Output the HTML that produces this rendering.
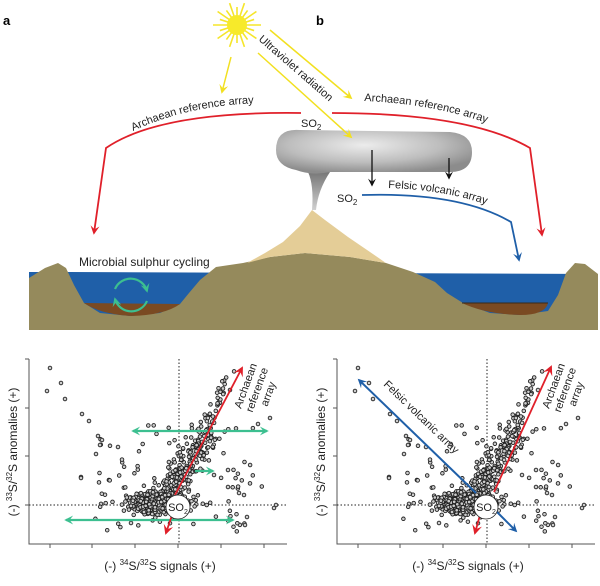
<!DOCTYPE html>
<html><head><meta charset="utf-8"><style>
html,body{margin:0;padding:0;background:#fff}
svg{display:block;font-family:"Liberation Sans",sans-serif}
</style></head><body>
<svg id="s" width="600" height="586" viewBox="0 0 600 586" xmlns="http://www.w3.org/2000/svg">
<defs>
<radialGradient id="cg" cx="0.45" cy="0.35" r="0.65"><stop offset="0" stop-color="#ececec"/><stop offset="0.6" stop-color="#bdbdbd"/><stop offset="1" stop-color="#8c8c8c"/></radialGradient>
<linearGradient id="st" x1="0" y1="0" x2="0" y2="1"><stop offset="0" stop-color="#777"/><stop offset="1" stop-color="#d0d0d0"/></linearGradient>
<marker id="ar" viewBox="0 0 10 10" refX="8" refY="5" markerWidth="9" markerHeight="9" orient="auto-start-reverse" markerUnits="userSpaceOnUse"><path d="M0,0 L10,5 L0,10 L4,5z" fill="#e0202a"/></marker>
<marker id="ay" viewBox="0 0 10 10" refX="8" refY="5" markerWidth="9" markerHeight="9" orient="auto" markerUnits="userSpaceOnUse"><path d="M0,0 L10,5 L0,10 L4,5z" fill="#f2e020"/></marker>
<marker id="ab" viewBox="0 0 10 10" refX="8" refY="5" markerWidth="9" markerHeight="9" orient="auto-start-reverse" markerUnits="userSpaceOnUse"><path d="M0,0 L10,5 L0,10 L4,5z" fill="#1f5fa8"/></marker>
<marker id="ag" viewBox="0 0 10 10" refX="8" refY="5" markerWidth="9" markerHeight="9" orient="auto-start-reverse" markerUnits="userSpaceOnUse"><path d="M0,0 L10,5 L0,10 L4,5z" fill="#3cbf90"/></marker>
<marker id="ak" viewBox="0 0 10 10" refX="8" refY="5" markerWidth="8" markerHeight="8" orient="auto" markerUnits="userSpaceOnUse"><path d="M0,0 L10,5 L0,10 L4,5z" fill="#111"/></marker>
<marker id="arb" viewBox="0 0 10 10" refX="8" refY="5" markerWidth="10" markerHeight="10" orient="auto-start-reverse" markerUnits="userSpaceOnUse"><path d="M0,0 L10,5 L0,10 L4,5z" fill="#e0202a"/></marker>
</defs>
<text x="3" y="25" font-size="13" font-weight="bold">a</text>
<text x="316" y="25" font-size="13" font-weight="bold">b</text>
<g stroke="#f5e52a" stroke-width="1.6" id="sun"></g>
<circle cx="237" cy="25" r="10" fill="#f7ea2a"/>
<path d="M29,272 L29,330 L598,330 L598,274 L69,272 Z" fill="#1f5fa8"/>
<path d="M29,330 L29,278 L45,268 L58,263 L66,268 L74,285 L84,303 L100,313 L131,316 L160,313 L180,304 L189,293 L200,280 L216,267 L243,263 L270,257 L305,253 L350,257 L386,263 L413,272 L435,282 L447,293 L463,303 L490,313 L520,315 L548,311 L558,295 L566,273 L575,263 L585,264 L598,274 L598,330 Z" fill="#958a5c"/>
<path d="M84,303 Q100,314 131,316 Q165,315 180,304 Z" fill="#7a4a22"/>
<path d="M462,303 L548,303 Q545,315 520,315 Q485,314 462,303Z" fill="#7a4a22"/>
<line x1="462" y1="303" x2="548" y2="303" stroke="#3a2a18" stroke-width="1"/>
<path d="M312,210 L300,226 L283,242 L265,253 L247,263 L270,257 L305,253 L350,257 L386,263 L370,252 L348,237 L325,220 Z" fill="#e4cd97"/>
<path d="M308,172 Q314,185 312,210 L316,210 Q318,190 330,172Z" fill="url(#st)"/>
<path d="M276,150 Q276,128 300,130 L450,132 Q472,134 472,152 Q472,172 450,172 L330,172 Q312,176 296,170 Q276,166 276,150Z" fill="url(#cg)"/>
<g stroke="#f2e020" stroke-width="1.5" fill="none">
<line x1="231" y1="57" x2="222" y2="92" marker-end="url(#ay)"/>
<line x1="270" y1="30" x2="351" y2="98" marker-end="url(#ay)"/>
<line x1="258" y1="53" x2="351" y2="137" marker-end="url(#ay)"/>
</g>
<text transform="translate(258,40) rotate(41)" font-size="11" fill="#222">Ultraviolet radiation</text>
<g stroke="#e0202a" stroke-width="1.8" fill="none">
<path d="M301,113 Q160,111 106,148 L94,233" marker-end="url(#ar)"/>
<path d="M332,113 Q470,113 530,148 L542,235" marker-end="url(#ar)"/>
</g>
<path id="lt" d="M133,131 Q190,104 266,103" fill="none"/>
<path id="rt" d="M364,101 Q440,104 500,128" fill="none"/>
<text font-size="11" fill="#222"><textPath href="#lt">Archaean reference array</textPath></text>
<text font-size="11" fill="#222"><textPath href="#rt">Archaean reference array</textPath></text>
<text x="301" y="127" font-size="11" fill="#222">SO<tspan font-size="8" dy="3">2</tspan></text>
<g stroke="#111" stroke-width="1.3">
<line x1="372" y1="150" x2="372" y2="185" marker-end="url(#ak)"/>
<line x1="449" y1="158" x2="449" y2="178" marker-end="url(#ak)"/>
</g>
<text x="337" y="202" font-size="11" fill="#222">SO<tspan font-size="8" dy="3">2</tspan></text>
<path d="M362,195 Q460,192 511,222 L519,260" stroke="#1f5fa8" stroke-width="1.8" fill="none" marker-end="url(#ab)"/>
<path id="ft" d="M388,188 Q450,190 496,208" fill="none"/>
<text font-size="11" fill="#222"><textPath href="#ft">Felsic volcanic array</textPath></text>
<text x="79" y="266" font-size="12" fill="#222">Microbial sulphur cycling</text>
<g stroke="#3cbf90" stroke-width="2.2" fill="none">
<path d="M115,289 A17,17 0 0 1 147,291" marker-end="url(#ag)"/>
<path d="M147,301 A17,17 0 0 1 115,299" marker-end="url(#ag)"/>
</g>
<g id="p1"></g>
<g id="p2" transform="translate(308,0)"></g>
</svg>
<script>
var NS="http://www.w3.org/2000/svg";
function el(p,t,a){var e=document.createElementNS(NS,t);for(var k in a)e.setAttribute(k,a[k]);p.appendChild(e);return e;}
var sun=document.getElementById('sun');
for(var i=0;i<20;i++){var a=i*Math.PI/10;el(sun,'line',{x1:237+Math.cos(a)*6,y1:25+Math.sin(a)*6,x2:237+Math.cos(a)*(i%2?18:24),y2:25+Math.sin(a)*(i%2?18:23)});}
var seed=7;function r(){seed=(seed*16807)%2147483647;return seed/2147483647;}
function g(){return (r()+r()+r()+r()-2)*0.87;}
var pts=[];
for(i=0;i<600;i++)pts.push([158+g()*26,503+g()*10]);
for(i=0;i<200;i++){var t=r();pts.push([168+t*40+g()*15,495-t*65+g()*9]);}
for(i=0;i<35;i++){var t=r();pts.push([205+t*25+g()*10,430-t*55+g()*7]);}
for(i=0;i<110;i++)pts.push([95+r()*170,425+r()*110]);
[[50,368],[47,391],[61,383],[65,399],[82,414],[89,421],[81,477],[81,478],[96,454],[102,440],[230,390],[258,424],[270,418],[276,505],[274,508],[245,525],[247,517],[239,493],[244,495],[228,487],[228,470],[98,436],[100,445],[118,447]].forEach(function(p){pts.push(p)});
function plot(G,right){
 el(G,'path',{d:'M29,359 L29,544 L287,544',stroke:'#555','stroke-width':1,fill:'none'});
 [359,408,456,505].forEach(function(y){el(G,'line',{x1:25,y1:y,x2:29,y2:y,stroke:'#555'})});
 [50,92,135,178,221,264].forEach(function(x){el(G,'line',{x1:x,y1:544,x2:x,y2:548,stroke:'#555'})});
 el(G,'line',{x1:179,y1:359,x2:179,y2:544,stroke:'#222','stroke-dasharray':'1.5,2'});
 el(G,'line',{x1:29,y1:505,x2:287,y2:505,stroke:'#222','stroke-dasharray':'1.5,2'});
 pts.forEach(function(p){if(p[0]>32&&p[0]<285&&p[1]>362&&p[1]<542)el(G,'circle',{cx:p[0].toFixed(1),cy:p[1].toFixed(1),r:1.8,fill:'#ccc',stroke:'#222','stroke-width':0.9});});
 var tx=el(G,'text',{x:160,y:570,'font-size':12,'text-anchor':'middle',fill:'#222'});
 tx.innerHTML='(-) <tspan font-size="8" dy="-5">34</tspan><tspan dy="5">S/</tspan><tspan font-size="8" dy="-5">32</tspan><tspan dy="5">S signals (+)</tspan>';
 var ty=el(G,'text',{transform:'translate(17,452) rotate(-90)','font-size':12,'text-anchor':'middle',fill:'#222'});
 ty.innerHTML='(-) <tspan font-size="8" dy="-5">33</tspan><tspan dy="5">S/</tspan><tspan font-size="8" dy="-5">32</tspan><tspan dy="5">S anomalies (+)</tspan>';
 if(!right){
  [[133,267,431],[195,213,471],[66,233,520]].forEach(function(a){el(G,'line',{x1:a[0],y1:a[2],x2:a[1],y2:a[2],stroke:'#3cbf90','stroke-width':2.2,'marker-end':'url(#ag)','marker-start':a[0]==195?'':'url(#ag)'});});
  el(G,'line',{x1:175,y1:495,x2:242,y2:368,stroke:'#e0202a','stroke-width':1.8,'marker-end':'url(#arb)'});
  el(G,'line',{x1:172,y1:515,x2:166,y2:533,stroke:'#e0202a','stroke-width':1.8,'marker-end':'url(#arb)'});
 } else {
  el(G,'line',{x1:168,y1:493,x2:51,y2:380,stroke:'#1f5fa8','stroke-width':2,'marker-end':'url(#ab)'});
  el(G,'line',{x1:188,y1:511,x2:208,y2:531,stroke:'#1f5fa8','stroke-width':2,'marker-end':'url(#ab)'});
  el(G,'line',{x1:186,y1:492,x2:243,y2:367,stroke:'#e0202a','stroke-width':1.8,'marker-end':'url(#arb)'});
  el(G,'line',{x1:172,y1:515,x2:167,y2:533,stroke:'#e0202a','stroke-width':1.8,'marker-end':'url(#arb)'});
  var f=el(G,'text',{transform:'translate(75,385) rotate(44)','font-size':11,fill:'#222'});f.textContent='Felsic volcanic array';
 }
 el(G,'circle',{cx:178,cy:507,r:12,fill:'#fff',stroke:'#222','stroke-width':0.8});
 var s=el(G,'text',{x:178,y:511,'font-size':11,'text-anchor':'middle',fill:'#222'});s.innerHTML='SO<tspan font-size="7" dy="3">2</tspan>';
 var ar=el(G,'text',{transform:'translate(249,387) rotate(-70)','font-size':11,fill:'#222','text-anchor':'middle'});
 ar.innerHTML='<tspan x="0" dy="0">Archaean</tspan><tspan x="0" dy="12">reference</tspan><tspan x="0" dy="12">array</tspan>';
}
plot(document.getElementById('p1'),false);
plot(document.getElementById('p2'),true);
</script>
</body></html>
